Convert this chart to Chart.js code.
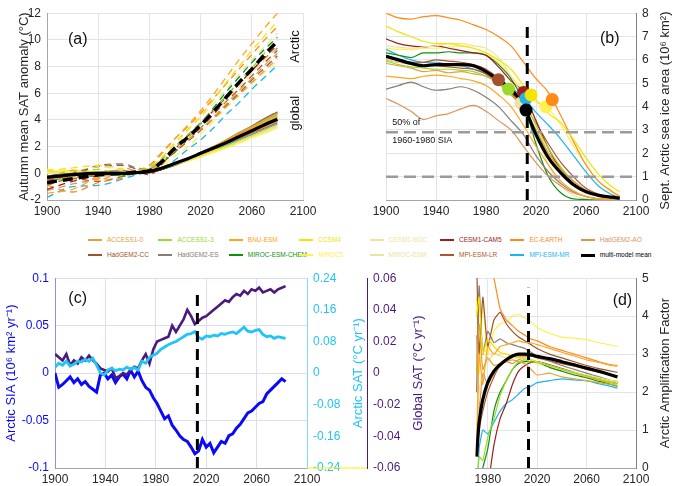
<!DOCTYPE html>
<html>
<head>
<meta charset="utf-8">
<script src="https://cdn.jsdelivr.net/npm/chart.js@4.4.1/dist/chart.umd.min.js"></script>
<style>
  body { margin: 0; background: #fff; width: 675px; height: 486px; overflow: hidden; position: relative;
         font-family: "Liberation Sans", Arial, sans-serif; }
  canvas { position: absolute; }
  .li { position: absolute; font-size: 6.5px; line-height: 8px; white-space: nowrap; }
  .li i { display: inline-block; width: 14px; height: 2px; vertical-align: middle; margin-right: 5px; }
</style>
</head>
<body>
<canvas id="ca" width="330" height="225" style="left:0;top:0"></canvas>
<canvas id="cb" width="345" height="225" style="left:330px;top:0"></canvas>
<canvas id="cc" width="470" height="221" style="left:0;top:265px"></canvas>
<canvas id="cd" width="205" height="221" style="left:470px;top:265px"></canvas>
<div id="legend"></div>
<script>
// models, in legend order
const models = ["ACCESS1-0", "ACCESS1-3", "BNU-ESM", "CCSM4", "CESM1-BGC", "CESM1-CAM5", "EC-EARTH", "HadGEM2-AO",
  "HadGEM2-CC", "HadGEM2-ES", "MIROC-ESM-CHEM", "MIROC5", "MIROC-ESM", "MPI-ESM-LR", "MPI-ESM-MR"];
const meanName = "multi-model mean";
const modelColors = ["#DFA33A", "#9BD92B", "#FFA520", "#F5E400", "#F0E39A", "#A01E1E", "#FF8A1A", "#D9955A",
  "#A0522D", "#8C7B70", "#109010", "#FFF050", "#EDE3A0", "#B0562E", "#1EB4F0"];

// (a) autumn SAT anomaly, Arctic (dashed) and global (solid)
const yearsA = [1900, 1920, 1940, 1960, 1970, 1980, 1990, 2000, 2010, 2020, 2030, 2040, 2050, 2060, 2070, 2080];
const arcticSAT = [
  [-0.4, 0.2, -0.5, 0.1, 0.0, 0.3, 0.8, 1.7, 2.5, 3.3, 4.2, 5.2, 6.2, 7.1, 8.1, 9.0],
  [-0.8, -0.2, 0.3, -0.2, 0.2, 0.4, 1.1, 2.0, 2.9, 3.7, 4.7, 5.8, 6.9, 7.9, 9.0, 10.0],
  [-1.5, -1.2, -0.3, 0.0, 0.2, 0.5, 1.5, 2.6, 3.6, 4.7, 5.9, 7.2, 8.5, 9.7, 10.9, 12.0],
  [0.2, 0.4, 0.6, 0.3, 0.1, 0.4, 1.2, 2.3, 3.3, 4.3, 5.5, 6.8, 8.0, 9.2, 10.3, 11.4],
  [0.1, -0.3, 0.5, 0.2, 0.0, 0.2, 0.9, 1.8, 2.6, 3.5, 4.5, 5.5, 6.5, 7.5, 8.5, 9.5],
  [-1.2, -0.6, -0.2, 0.0, 0.1, -0.1, 0.7, 1.8, 2.8, 3.7, 4.7, 5.7, 6.7, 7.7, 8.7, 9.6],
  [-0.9, -1.4, -0.7, -0.3, 0.2, 0.6, 1.6, 2.6, 3.5, 4.5, 5.6, 6.7, 7.8, 8.9, 10.0, 11.0],
  [-1.3, -0.8, -0.4, 0.4, 0.2, 0.2, 0.9, 1.7, 2.5, 3.3, 4.1, 5.0, 5.9, 6.8, 7.7, 8.6],
  [-0.6, 0.0, 0.5, 0.6, 0.3, 0.1, 0.8, 1.6, 2.4, 3.2, 4.1, 5.1, 6.0, 7.0, 7.9, 8.8],
  [-0.5, -0.3, 0.6, 0.7, 0.4, 0.3, 1.1, 2.0, 2.9, 3.8, 4.8, 5.8, 6.8, 7.7, 8.6, 9.4],
  [-0.3, -0.1, 0.0, -0.2, 0.1, 0.2, 0.8, 1.6, 2.6, 3.7, 4.9, 6.1, 7.2, 8.3, 9.3, 10.2],
  [0.3, 0.1, -0.3, 0.1, 0.0, 0.1, 0.6, 1.3, 2.0, 2.9, 3.9, 4.9, 5.8, 6.7, 7.6, 8.4],
  [0.0, 0.3, -0.2, 0.0, 0.2, 0.4, 1.2, 2.2, 3.2, 4.2, 5.2, 6.3, 7.4, 8.5, 9.5, 10.5],
  [-0.9, -0.4, -0.6, -0.2, 0.0, 0.3, 0.9, 1.7, 2.5, 3.4, 4.4, 5.4, 6.3, 7.3, 8.3, 9.2],
  [-1.8, -1.0, -0.9, -0.4, -0.1, 0.1, 0.4, 1.0, 1.8, 2.5, 3.4, 4.4, 5.3, 6.3, 7.2, 8.1]
];
const arcticMean = [-0.7, -0.4, -0.1, 0.0, 0.1, 0.2, 0.9, 1.9, 2.7, 3.6, 4.6, 5.7, 6.8, 7.8, 8.9, 9.9];
const globalSAT = [
  [-0.2, -0.1, 0.0, 0.0, 0.0, 0.1, 0.35, 0.7, 1.05, 1.45, 1.9, 2.4, 2.9, 3.4, 3.9, 4.4],
  [-0.3, 0.0, 0.1, 0.0, 0.0, 0.1, 0.35, 0.7, 1.05, 1.45, 1.9, 2.35, 2.85, 3.3, 3.8, 4.3],
  [-0.5, -0.2, 0.1, 0.0, 0.05, 0.2, 0.4, 0.75, 1.1, 1.55, 2.0, 2.5, 3.0, 3.5, 4.0, 4.5],
  [0.1, 0.2, 0.1, 0.0, 0.0, 0.15, 0.4, 0.7, 1.0, 1.35, 1.7, 2.0, 2.4, 2.8, 3.2, 3.6],
  [0.0, 0.1, 0.0, 0.1, 0.0, 0.1, 0.35, 0.65, 0.95, 1.3, 1.65, 2.0, 2.35, 2.75, 3.1, 3.5],
  [-0.4, -0.2, 0.0, 0.0, 0.0, 0.05, 0.3, 0.7, 1.05, 1.45, 1.85, 2.25, 2.7, 3.1, 3.55, 4.0],
  [-0.3, -0.3, -0.1, 0.0, 0.05, 0.2, 0.45, 0.8, 1.1, 1.5, 1.85, 2.25, 2.65, 3.05, 3.5, 3.9],
  [-0.5, -0.2, -0.1, 0.1, 0.0, 0.1, 0.35, 0.7, 1.05, 1.45, 1.85, 2.3, 2.75, 3.2, 3.7, 4.2],
  [-0.2, 0.0, 0.1, 0.1, 0.05, 0.05, 0.3, 0.65, 1.0, 1.45, 1.9, 2.45, 2.95, 3.5, 4.0, 4.5],
  [-0.2, -0.1, 0.1, 0.2, 0.1, 0.1, 0.35, 0.7, 1.1, 1.55, 2.0, 2.5, 3.05, 3.55, 4.1, 4.6],
  [-0.2, 0.0, 0.0, -0.1, 0.0, 0.1, 0.3, 0.6, 1.0, 1.45, 1.95, 2.5, 3.0, 3.55, 4.1, 4.6],
  [0.1, 0.0, -0.1, 0.0, 0.0, 0.05, 0.3, 0.6, 0.9, 1.2, 1.55, 1.9, 2.25, 2.65, 3.0, 3.4],
  [0.0, 0.1, 0.0, 0.0, 0.05, 0.15, 0.4, 0.75, 1.1, 1.5, 1.95, 2.4, 2.9, 3.4, 3.9, 4.4],
  [-0.4, -0.1, -0.2, 0.0, 0.0, 0.1, 0.35, 0.7, 1.0, 1.4, 1.8, 2.2, 2.6, 3.0, 3.4, 3.8],
  [-0.6, -0.3, -0.2, -0.1, 0.0, 0.05, 0.3, 0.6, 0.95, 1.3, 1.7, 2.1, 2.5, 2.9, 3.3, 3.7]
];
const globalMean = [-0.3, -0.1, 0.0, 0.0, 0.05, 0.15, 0.4, 0.75, 1.1, 1.5, 1.9, 2.3, 2.75, 3.2, 3.65, 4.05];

// (b) September Arctic sea ice area
const yearsB = [1900, 1910, 1920, 1930, 1940, 1950, 1960, 1970, 1980, 1990, 2000, 2010, 2020, 2030, 2040, 2050, 2060, 2070, 2080, 2087];
const seaIce = [
  [5.85, 5.75, 5.65, 5.5, 5.55, 5.45, 5.5, 5.4, 5.3, 5.0, 4.5, 3.9, 3.0, 2.0, 1.3, 0.8, 0.4, 0.2, 0.1, 0.05],
  [5.95, 5.8, 5.7, 5.65, 5.6, 5.6, 5.55, 5.5, 5.3, 5.0, 4.7, 4.2, 3.2, 2.2, 1.4, 0.8, 0.4, 0.2, 0.1, 0.05],
  [5.3, 5.25, 5.2, 5.3, 5.35, 5.3, 5.2, 5.1, 4.9, 4.5, 4.0, 3.2, 2.3, 1.5, 0.8, 0.4, 0.15, 0.05, 0.02, 0.0],
  [7.45, 7.2, 7.0, 6.8, 6.7, 6.7, 6.6, 6.5, 6.3, 6.0, 5.6, 4.9, 4.3, 3.7, 3.3, 2.6, 1.8, 1.1, 0.6, 0.35],
  [6.6, 6.55, 6.5, 6.55, 6.6, 6.7, 6.7, 6.6, 6.5, 6.1, 5.3, 4.4, 3.2, 2.0, 1.2, 0.6, 0.3, 0.15, 0.05, 0.02],
  [6.9, 6.7, 6.6, 6.55, 6.6, 6.5, 6.4, 6.3, 6.2, 5.7, 5.1, 4.6, 3.4, 2.2, 1.3, 0.7, 0.4, 0.2, 0.1, 0.05],
  [8.0, 7.8, 7.75, 7.85, 7.9, 7.8, 7.7, 7.5, 7.3, 7.0, 6.6, 5.9, 5.2, 4.6, 3.6, 2.5, 1.5, 0.8, 0.4, 0.15],
  [4.35, 4.1, 3.8, 3.45, 3.6, 3.7, 3.9, 4.05, 3.8, 3.4, 3.0, 2.3, 1.6, 1.0, 0.6, 0.3, 0.15, 0.05, 0.02, 0.0],
  [6.2, 6.0, 5.9, 5.9, 6.0, 5.95, 5.9, 5.8, 5.6, 5.2, 4.6, 3.9, 3.0, 2.0, 1.3, 0.8, 0.4, 0.2, 0.1, 0.05],
  [4.75, 4.9, 5.05, 4.85, 4.7, 4.75, 4.85, 4.7, 4.4, 4.0, 3.4, 2.8, 1.9, 1.2, 0.7, 0.35, 0.15, 0.05, 0.02, 0.0],
  [6.3, 6.2, 6.1, 6.3, 6.3, 6.35, 6.3, 6.3, 6.2, 5.8, 5.2, 4.2, 2.4, 1.0, 0.3, 0.05, 0.02, 0.0, 0.0, 0.0],
  [6.5, 6.45, 6.45, 6.5, 6.5, 6.55, 6.6, 6.5, 6.3, 5.9, 5.3, 4.7, 4.2, 3.9, 3.2, 2.3, 1.5, 0.8, 0.35, 0.15],
  [6.0, 5.9, 5.85, 5.8, 5.85, 5.8, 5.75, 5.7, 5.5, 5.0, 4.5, 4.1, 2.8, 1.5, 0.6, 0.2, 0.05, 0.0, 0.0, 0.0],
  [6.0, 5.9, 5.85, 5.8, 5.75, 5.7, 5.65, 5.6, 5.4, 5.0, 4.6, 4.1, 3.3, 2.4, 1.6, 1.0, 0.5, 0.25, 0.1, 0.05],
  [6.45, 6.2, 6.0, 5.9, 5.9, 5.8, 5.75, 5.6, 5.4, 5.0, 4.8, 4.4, 3.75, 3.2, 2.6, 1.9, 1.2, 0.6, 0.25, 0.1]
];
const seaIceMean = [6.15, 6.0, 5.85, 5.75, 5.8, 5.8, 5.8, 5.75, 5.5, 5.15, 4.75, 4.05, 2.8, 1.8, 1.15, 0.65, 0.35, 0.2, 0.12, 0.08];
// big dots on (b): year, SIA, model index (-1 = multi-model mean)
const dotYears = [1990, 1998, 2008, 2010, 2012, 2016, 2028, 2033, 2012];
const dotSIA = [5.15, 4.75, 4.15, 4.6, 4.35, 4.5, 4.0, 4.3, 3.85];
const dotModel = [8, 1, 12, 5, 14, 3, 11, 6, -1];
const halfSIA = 2.9;
const lowSIA = 1.0;
const refYear = 2013;

// (c) rates of change, multi-model mean
const yearsC = [1900, 1903, 1906, 1909, 1912, 1915, 1918, 1921, 1924, 1927, 1930, 1933, 1936, 1939, 1942, 1945,
  1948, 1951, 1954, 1957, 1960, 1963, 1966, 1969, 1972, 1975, 1978, 1981, 1984, 1987, 1990, 1993, 1996, 1999,
  2002, 2005, 2008, 2011, 2014, 2017, 2020, 2023, 2026, 2029, 2032, 2035, 2038, 2041, 2044, 2047, 2050, 2053,
  2056, 2059, 2062, 2065, 2068, 2071, 2074, 2077, 2080, 2083];
const rateSIA = [0.000, -0.015, -0.012, -0.008, -0.004, -0.010, -0.006, -0.012, -0.009, -0.014, -0.017, -0.020,
  -0.002, 0.000, -0.006, -0.002, -0.010, -0.004, -0.001, -0.006, 0.003, -0.004, 0.002, -0.008, -0.015, -0.018,
  -0.026, -0.032, -0.040, -0.048, -0.045, -0.055, -0.060, -0.066, -0.070, -0.072, -0.078, -0.085, -0.082, -0.070,
  -0.078, -0.074, -0.084, -0.078, -0.072, -0.074, -0.066, -0.064, -0.058, -0.054, -0.048, -0.042, -0.040, -0.036,
  -0.032, -0.030, -0.022, -0.018, -0.014, -0.010, -0.006, -0.009];
const rateArcticSAT = [0.015, 0.025, 0.020, 0.030, 0.018, 0.022, 0.030, 0.028, 0.035, 0.030, 0.038, 0.020, 0.000,
  -0.005, 0.008, 0.012, 0.006, 0.010, 0.008, 0.015, 0.010, 0.014, 0.008, 0.030, 0.025, 0.040, 0.045, 0.050, 0.060,
  0.066, 0.072, 0.076, 0.080, 0.086, 0.092, 0.098, 0.100, 0.105, 0.090, 0.086, 0.094, 0.092, 0.096, 0.094, 0.100,
  0.098, 0.102, 0.104, 0.100, 0.108, 0.116, 0.106, 0.104, 0.108, 0.110, 0.098, 0.092, 0.094, 0.088, 0.092, 0.090, 0.088];
const rateGlobalSAT = [0.012, 0.010, 0.008, 0.012, 0.005, 0.008, 0.006, 0.010, 0.008, 0.011, 0.008, 0.006, 0.003,
  0.002, 0.001, 0.003, -0.003, -0.002, 0.000, -0.001, 0.002, 0.004, 0.003, 0.008, 0.012, 0.006, 0.015, 0.020, 0.021,
  0.022, 0.023, 0.030, 0.026, 0.030, 0.034, 0.040, 0.036, 0.031, 0.033, 0.035, 0.036, 0.038, 0.040, 0.042, 0.044,
  0.046, 0.045, 0.048, 0.050, 0.049, 0.052, 0.050, 0.053, 0.052, 0.054, 0.051, 0.052, 0.053, 0.051, 0.053, 0.054, 0.055];

// (d) Arctic amplification factor
const yearsD = [1971, 1973, 1976, 1980, 1985, 1990, 1995, 2000, 2005, 2010, 2015, 2020, 2030, 2040, 2050, 2060, 2070, 2080, 2085];
const xTicksD = [1980, 2020, 2060, 2100];
const ampFactor = [
  [2.5, 3.8, 2.6, 2.9, 2.7, 2.75, 2.8, 2.85, 2.8, 2.75, 2.6, 2.45, 2.5, 2.4, 2.35, 2.3, 2.25, 2.2, 2.18],
  [-1, 0.3, 0.2, 0.8, 1.3, 1.9, 2.3, 2.6, 2.8, 2.85, 2.8, 2.78, 2.7, 2.6, 2.5, 2.42, 2.33, 2.25, 2.22],
  [0.5, 3.0, 2.2, 3.2, 3.0, 3.2, 3.25, 3.3, 3.35, 3.3, 3.3, 3.25, 3.15, 3.05, 2.95, 2.85, 2.78, 2.7, 2.68],
  [4.0, 4.5, 3.0, 3.4, 3.2, 3.05, 3.0, 2.95, 2.9, 2.9, 2.85, 2.8, 2.7, 2.6, 2.5, 2.42, 2.35, 2.28, 2.25],
  [1.0, 2.0, 2.6, 2.8, 3.0, 3.0, 3.0, 2.95, 2.9, 2.9, 2.85, 2.8, 2.7, 2.6, 2.52, 2.45, 2.38, 2.3, 2.28],
  [-3, -2, -1, -0.5, 0.6, 1.3, 1.7, 2.2, 2.55, 2.7, 2.78, 2.8, 2.72, 2.62, 2.52, 2.44, 2.36, 2.28, 2.25],
  [8, 7, 6, 5.5, 5.0, 4.2, 3.9, 3.75, 3.6, 3.5, 3.4, 3.35, 3.2, 3.1, 3.0, 2.9, 2.8, 2.72, 2.7],
  [3.5, 1.5, 2.5, 2.2, 2.5, 2.7, 2.8, 2.75, 2.85, 2.9, 2.85, 2.8, 2.7, 2.6, 2.5, 2.4, 2.32, 2.25, 2.22],
  [5.5, 3.0, 4.5, 3.2, 3.9, 4.1, 3.8, 3.6, 3.45, 3.35, 3.25, 3.15, 3.0, 2.9, 2.8, 2.7, 2.62, 2.55, 2.52],
  [2.0, 4.8, 3.0, 3.6, 3.3, 3.4, 3.3, 3.25, 3.2, 3.15, 3.05, 2.95, 2.82, 2.7, 2.6, 2.5, 2.4, 2.3, 2.28],
  [-2, -0.5, 0.0, 0.5, 1.5, 2.0, 2.3, 2.6, 2.75, 2.8, 2.8, 2.8, 2.65, 2.55, 2.45, 2.38, 2.28, 2.2, 2.15],
  [4.5, 2.5, 4.4, 3.0, 3.6, 3.8, 3.85, 4.0, 4.05, 3.95, 3.85, 3.7, 3.55, 3.45, 3.42, 3.38, 3.3, 3.24, 3.2],
  [3.0, 2.5, 3.2, 3.0, 3.0, 2.95, 2.9, 2.9, 2.9, 2.85, 2.8, 2.75, 2.65, 2.55, 2.45, 2.38, 2.3, 2.24, 2.2],
  [0.4, 1.0, 1.5, 2.0, 2.4, 2.7, 2.85, 2.95, 2.95, 2.95, 2.95, 2.9, 2.82, 2.75, 2.68, 2.6, 2.52, 2.45, 2.42],
  [-1, 0.5, 1.0, 0.9, 1.2, 1.5, 1.7, 1.8, 1.95, 2.1, 2.15, 2.25, 2.3, 2.35, 2.32, 2.3, 2.22, 2.15, 2.1]
];
const ampMean = [0.3, 1.2, 1.8, 2.25, 2.55, 2.72, 2.85, 2.95, 3.0, 3.0, 2.98, 2.94, 2.88, 2.8, 2.72, 2.63, 2.55, 2.45, 2.4];

Chart.defaults.font.family = '"Liberation Sans", Arial, sans-serif';
Chart.defaults.color = "#262626";

const gridGray = "#E4E4E4";
const axisGray = "#A6A6A6";
const blue = "#0A0AF5", lightBlue = "#22C4F7", purple = "#4B1A7A";
const fmt = v => String(Number(v.toFixed(3)));

// texts and rotated axis titles
const annot = {
  id: "annot",
  afterDatasetsDraw(chart, args, opts) {
    const ctx = chart.ctx, a = chart.chartArea;
    ctx.save();
    if (opts.seg) {
      const s = opts.seg;
      ctx.strokeStyle = s.color; ctx.lineWidth = 1.2;
      ctx.beginPath();
      ctx.moveTo(chart.scales[s.from].left, a.bottom);
      ctx.lineTo(chart.scales[s.to].left, a.bottom);
      ctx.stroke();
    }
    (opts.texts || []).forEach(t => {
      ctx.save();
      ctx.font = t.font; ctx.fillStyle = t.color || "#111";
      ctx.textAlign = t.align || "center"; ctx.textBaseline = "middle";
      ctx.translate(chart.scales.x.getPixelForValue(t.x), chart.scales[t.axis || "y"].getPixelForValue(t.y));
      if (t.rot) ctx.rotate(-Math.PI / 2);
      ctx.fillText(t.text, 0, 0);
      ctx.restore();
    });
    (opts.titles || []).forEach(t => {
      ctx.save();
      ctx.font = t.font || "13px 'Liberation Sans', Arial, sans-serif";
      ctx.fillStyle = t.color || "#262626";
      ctx.textAlign = "center"; ctx.textBaseline = "middle";
      ctx.translate(t.px, (a.top + a.bottom) / 2 + (t.dy || 0));
      ctx.rotate(-Math.PI / 2);
      ctx.fillText(t.text, 0, 0);
      ctx.restore();
    });
    ctx.restore();
  }
};
Chart.register(annot);

function line(xs, ys, color, extra) {
  return Object.assign({
    data: xs.map((x, k) => ({ x: x, y: ys[k] })),
    borderColor: color, backgroundColor: color, borderWidth: 1.2,
    pointRadius: 0, fill: false, tension: 0
  }, extra || {});
}

function xScale(min, max, h, extra) {
  return Object.assign({
    type: "linear", min: min, max: max,
    ticks: { stepSize: 40, padding: 4, font: { size: 12 }, autoSkip: false, maxRotation: 0, callback: v => String(v) },
    grid: { color: gridGray, drawTicks: false },
    border: { color: axisGray },
    afterFit: s => { s.height = h; }
  }, extra || {});
}

function yScale(pos, min, max, step, w, color, extra) {
  return Object.assign({
    type: "linear", position: pos, min: min, max: max,
    ticks: { stepSize: step, padding: 6, font: { size: 12 }, color: color, autoSkip: false, callback: fmt },
    grid: { color: gridGray, drawTicks: false },
    border: { color: axisGray },
    afterFit: s => { s.width = w; }
  }, extra || {});
}

function baseOptions(padding, scales, annotOpts) {
  return {
    animation: false, responsive: false, devicePixelRatio: 1,
    layout: { padding: padding },
    plugins: { legend: { display: false }, tooltip: { enabled: false }, annot: annotOpts },
    scales: scales
  };
}

const big = "16px 'Liberation Sans', Arial, sans-serif";
const small = "9px 'Liberation Sans', Arial, sans-serif";

// ---- (a)
const dsA = [];
models.forEach((m, i) => dsA.push(line(yearsA, globalSAT[i], modelColors[i], { cubicInterpolationMode: "monotone", order: 20 })));
models.forEach((m, i) => dsA.push(line(yearsA, arcticSAT[i], modelColors[i], { borderDash: [7, 5], borderWidth: 1.3, cubicInterpolationMode: "monotone", order: 10 })));
dsA.push(line(yearsA, globalMean, "#000", { borderWidth: 3.2, cubicInterpolationMode: "monotone", order: 2 }));
dsA.push(line(yearsA, arcticMean, "#000", { borderWidth: 3.5, borderDash: [10, 6], cubicInterpolationMode: "monotone", order: 1 }));

new Chart(document.getElementById("ca"), {
  type: "line",
  data: { datasets: dsA },
  options: baseOptions({ left: 0, right: 27, top: 8, bottom: 0 }, {
    x: xScale(1900, 2100, 25),
    y: yScale("left", -2, 12, 2, 47, "#262626")
  }, {
    texts: [
      { text: "(a)", x: 1924, y: 10, font: big },
      { text: "Arctic", x: 2094, y: 9.5, rot: true, font: "13px 'Liberation Sans', Arial, sans-serif" },
      { text: "global", x: 2094, y: 4.5, rot: true, font: "13px 'Liberation Sans', Arial, sans-serif" }
    ],
    titles: [{ text: "Autumn mean SAT anomaly (°C)", px: 24 }]
  })
});

// ---- (b)
const dsB = [];
models.forEach((m, i) => dsB.push(line(yearsB, seaIce[i], modelColors[i], { cubicInterpolationMode: "monotone", order: 10 })));
dsB.push(line(yearsB, seaIceMean, "#000", { borderWidth: 3.2, cubicInterpolationMode: "monotone", order: 4 }));
dsB.push(line([1900, 2100], [halfSIA, halfSIA], "#9A9A9A", { borderWidth: 2.5, borderDash: [12, 6], order: 5 }));
dsB.push(line([1900, 2100], [lowSIA, lowSIA], "#9A9A9A", { borderWidth: 2.5, borderDash: [12, 6], order: 5 }));
dsB.push(line([refYear, refYear], [0, 7.7], "#000", { borderWidth: 3, borderDash: [11, 7], order: 3 }));
dsB.push(line(dotYears, dotSIA, "#000", {
  showLine: false, order: 0, pointRadius: 6.5, pointBorderWidth: 0,
  pointBackgroundColor: dotModel.map(k => k < 0 ? "#000" : modelColors[k])
}));

new Chart(document.getElementById("cb"), {
  type: "line",
  data: { datasets: dsB },
  options: baseOptions({ left: 56, right: 0, top: 8, bottom: 0 }, {
    x: xScale(1900, 2100, 25),
    y: yScale("right", 0, 8, 1, 39, "#262626", { border: { color: "#808080" } })
  }, {
    texts: [
      { text: "(b)", x: 2079, y: 6.9, font: big },
      { text: "50% of", x: 1905, y: 3.3, align: "left", font: small },
      { text: "1960-1980 SIA", x: 1905, y: 2.55, align: "left", font: small }
    ],
    titles: [{ text: "Sept. Arctic sea ice area (10⁶ km²)", px: 335, dy: 4 }]
  })
});

// ---- (c)
const lavender = "#DCDCF4";
new Chart(document.getElementById("cc"), {
  type: "line",
  data: {
    datasets: [
      line(yearsC, rateSIA, blue, { borderWidth: 3, yAxisID: "y", order: 6 }),
      line(yearsC, rateGlobalSAT, purple, { borderWidth: 2.6, yAxisID: "y3", order: 5 }),
      line(yearsC, rateArcticSAT, lightBlue, { borderWidth: 2.8, yAxisID: "y2", order: 4 }),
      line([refYear, refYear], [-0.1, 0.088], "#000", { borderWidth: 3, borderDash: [11, 7], yAxisID: "y", order: 1 })
    ]
  },
  options: baseOptions({ left: 0, right: 40, top: 11, bottom: 0 }, {
    x: xScale(1900, 2100, 18, { grid: { color: lavender, drawTicks: false } }),
    y: yScale("left", -0.1, 0.1, 0.05, 55, blue, { grid: { color: lavender, drawTicks: false }, border: { color: "#8C8CFF" } }),
    y2: yScale("right", -0.24, 0.24, 0.08, 60, lightBlue, {
      grid: { drawOnChartArea: false, drawTicks: false }, border: { color: "#7FDDFB" }
    }),
    y3: yScale("right", -0.06, 0.06, 0.02, 63, purple, {
      grid: { drawOnChartArea: false, drawTicks: false }, border: { color: purple }
    })
  }, {
    seg: { from: "y2", to: "y3", color: "#FFF200" },
    texts: [{ text: "(c)", x: 1918, y: 0.078, font: big }],
    titles: [
      { text: "Arctic SIA (10⁶ km² yr⁻¹)", px: 11, color: blue },
      { text: "Arctic SAT (°C yr⁻¹)", px: 358, color: lightBlue },
      { text: "Global SAT (°C yr⁻¹)", px: 418, color: purple }
    ]
  })
});

// ---- (d)
const dsD = [];
models.forEach((m, i) => dsD.push(line(yearsD, ampFactor[i], modelColors[i], { tension: 0.15, order: 10 })));
dsD.push(line(yearsD, ampMean, "#000", { borderWidth: 3.2, cubicInterpolationMode: "monotone", order: 2 }));
dsD.push(line([refYear, refYear], [0, 4.75], "#000", { borderWidth: 3, borderDash: [11, 7], order: 1 }));

new Chart(document.getElementById("cd"), {
  type: "line",
  data: { datasets: dsD },
  options: baseOptions({ left: 5, right: 0, top: 12, bottom: 0 }, {
    x: xScale(1970, 2100, 18, { afterBuildTicks: s => { s.ticks = xTicksD.map(v => ({ value: v })); } }),
    y: yScale("right", 0, 5, 1, 39, "#262626", { border: { color: "#808080" } })
  }, {
    texts: [{ text: "(d)", x: 2089, y: 4.4, font: big }],
    titles: [{ text: "Arctic Amplification Factor", px: 195 }]
  })
});

// ---- legend between the rows
const leg = document.getElementById("legend");
models.concat([meanName]).forEach((m, i) => {
  const c = i < models.length ? modelColors[i] : "#000";
  const d = document.createElement("div");
  d.className = "li";
  d.style.left = (88 + (i % 8) * 70.4) + "px";
  d.style.top = (236 + Math.floor(i / 8) * 15) + "px";
  d.innerHTML = `<i style="background:${c};height:${i < models.length ? 2 : 3}px"></i><span style="color:${c}">${m}</span>`;
  leg.appendChild(d);
});
</script>
</body>
</html>
